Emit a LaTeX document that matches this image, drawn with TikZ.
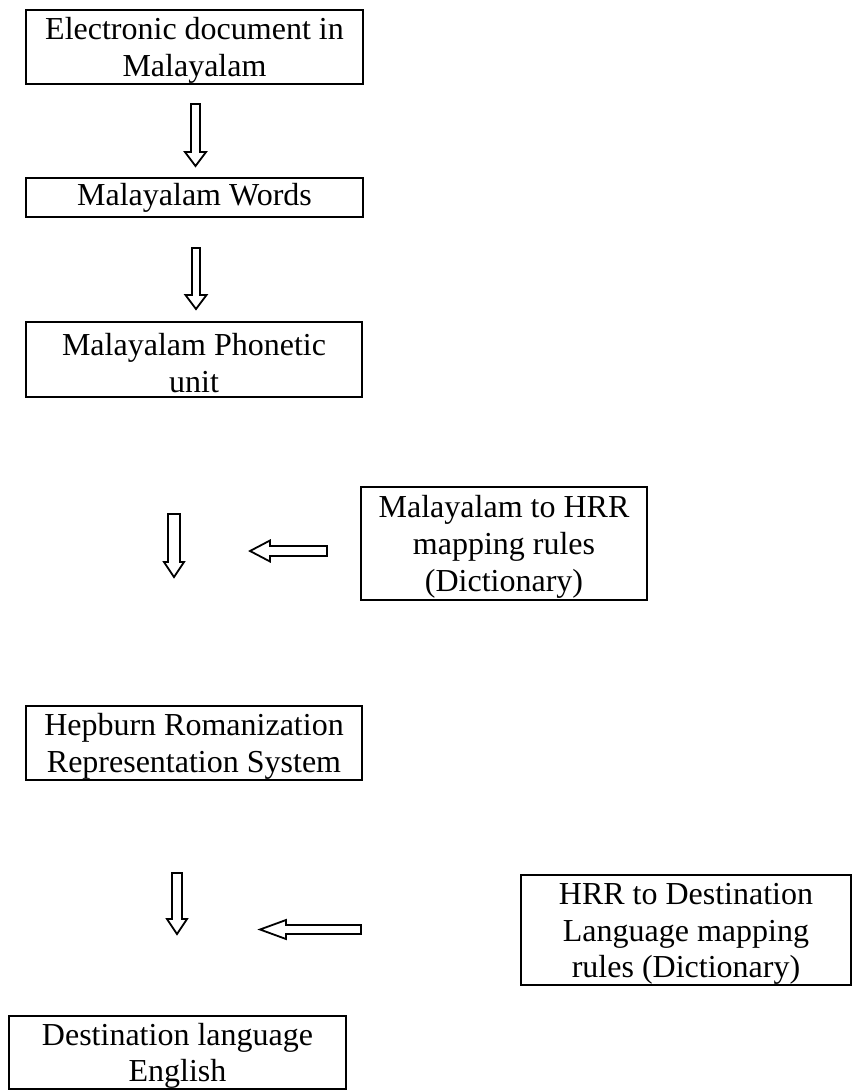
\documentclass[tikz,border=0pt]{standalone}
\usepackage{fontspec}
\setmainfont{Liberation Serif}
\usepackage{tikz}
% hollow block arrows: x, top, tip, shaft half, head half, head length
\newcommand{\blockdown}[6]{%
  \draw[hollow] ({#1-#4},#2) -- ({#1+#4},#2) -- ({#1+#4},{#3-#6}) -- ({#1+#5},{#3-#6})
    -- (#1,#3) -- ({#1-#5},{#3-#6}) -- ({#1-#4},{#3-#6}) -- cycle;}
% tip x, tail x, y, shaft half, head half, head length
\newcommand{\blockleft}[6]{%
  \draw[hollow] (#1,#3) -- ({#1+#6},{#3-#5}) -- ({#1+#6},{#3-#4}) -- (#2,{#3-#4})
    -- (#2,{#3+#4}) -- ({#1+#6},{#3+#4}) -- ({#1+#6},{#3+#5}) -- cycle;}
\newcommand{\tallstrut}{\rule{0pt}{29pt}}

\begin{document}
\begin{tikzpicture}[x=1pt,y=-1pt,
  box/.style={draw,line width=2pt,inner sep=0pt,align=center,
    font=\fontsize{32}{36.8}\selectfont},
  hollow/.style={draw,line width=1.8pt,fill=white,line join=miter}]

  \useasboundingbox (0,0) rectangle (853,1090);

  % left column
  \node[box,minimum width=337pt,minimum height=74pt] (doc) at (194.5,47) {\tallstrut Electronic document in\\Malayalam};
  \node[box,minimum width=337pt,minimum height=39pt] (words) at (194.5,197.5) {Malayalam Words};
  \node[box,minimum width=336pt,minimum height=75pt] (phon) at (194,359.5) {\tallstrut Malayalam Phonetic\\unit};
  \node[box,minimum width=336pt,minimum height=74pt] (hrs) at (194,743) {\tallstrut Hepburn Romanization\\Representation System};
  \node[box,minimum width=337pt,minimum height=72pt] (dest) at (177.5,1052.5) {\tallstrut Destination language\\English};

  % dictionaries
  \node[box,minimum width=286pt,minimum height=113pt] (dictA) at (504,543.5) {\tallstrut Malayalam to HRR\\mapping rules\\(Dictionary)};
  \node[box,minimum width=330pt,minimum height=110pt] (dictB) at (686,930) {\tallstrut HRR to Destination\\Language mapping\\rules (Dictionary)};

  \blockdown{195.5}{104}{166}{4.5}{10.5}{14}
  \blockdown{196}{248}{309}{4}{10.5}{14}
  \blockdown{174}{514}{577}{6}{10}{15}
  \blockdown{177}{873}{934}{5}{10}{15}
  \blockleft{250}{327}{551}{5}{10.5}{20}
  \blockleft{260}{361}{929.5}{4.5}{9.5}{26}

\end{tikzpicture}
\end{document}
